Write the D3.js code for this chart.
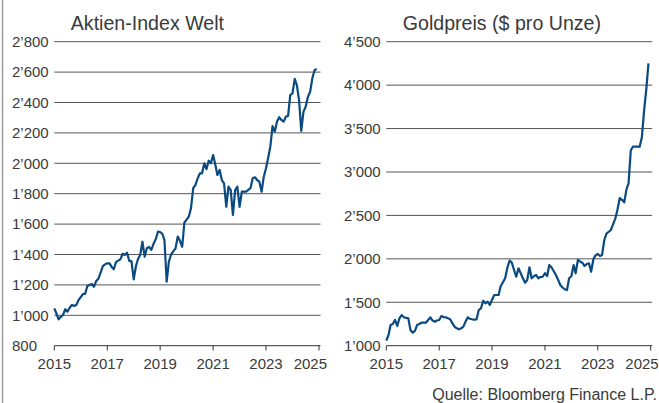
<!DOCTYPE html>
<html>
<head>
<meta charset="utf-8">
<style>
  html, body { margin: 0; padding: 0; background: #fff; }
  svg { display: block; }
  text { font-family: 'Liberation Sans', Arial, sans-serif; fill: #3a3a3a; }
</style>
</head>
<body>
<svg width="659" height="403"></svg>
<script src="https://cdn.jsdelivr.net/npm/d3@7"></script>
<script>
(function (d3) {
  'use strict'

  // monthly closes, Jan 2015 .. Dec 2024
  const stockValues = [
    1046, 1010, 974, 990, 1002, 1040, 1024, 1050, 1068, 1062, 1068, 1100,
    1120, 1140, 1140, 1193, 1200, 1206, 1188, 1225, 1241, 1280, 1324, 1335,
    1342, 1342, 1320, 1303, 1350, 1360, 1368, 1405, 1397, 1412, 1357, 1357,
    1237, 1324, 1370, 1397, 1484, 1386, 1441, 1450, 1430, 1470, 1500, 1550,
    1548, 1535, 1495, 1221, 1353, 1400, 1420, 1441, 1518, 1490, 1451, 1609,
    1630, 1650, 1704, 1836, 1857, 1900, 1934, 1934, 2000, 1961, 2017, 2000,
    2054, 1989, 1923, 1956, 1890, 1868, 1714, 1846, 1824, 1660, 1824, 1846,
    1714, 1813, 1813, 1813, 1825, 1836, 1901, 1908, 1890, 1879, 1813, 1912,
    1967, 2040, 2109, 2245, 2208, 2274, 2303, 2285, 2274, 2307, 2311, 2449,
    2460, 2555, 2515, 2416, 2213, 2340, 2372, 2438, 2471, 2559, 2614, 2620
  ]

  const goldValues = [
    1058, 1123, 1238, 1250, 1296, 1227, 1315, 1353, 1327, 1320, 1315, 1181,
    1150, 1170, 1238, 1250, 1265, 1265, 1265, 1296, 1327, 1290, 1276, 1290,
    1296, 1342, 1330, 1327, 1315, 1304, 1260, 1219, 1200, 1189, 1200, 1219,
    1280, 1327, 1310, 1304, 1300, 1304, 1411, 1431, 1518, 1488, 1507, 1469,
    1530, 1584, 1584, 1584, 1687, 1730, 1776, 1900, 1979, 1956, 1872, 1794,
    1891, 1834, 1780, 1725, 1756, 1903, 1776, 1800, 1814, 1776, 1790, 1794,
    1834, 1802, 1929, 1903, 1860, 1814, 1760, 1699, 1670, 1650, 1641, 1776,
    1800, 1929, 1834, 1987, 1970, 1956, 1918, 1940, 1949, 1852, 1995, 2040,
    2056, 2033, 2044, 2217, 2290, 2312, 2332, 2400, 2467, 2570, 2700, 2680,
    2650, 2800, 2870, 3250, 3291, 3291, 3291, 3291, 3400, 3700, 3950, 4251
  ]

  const yearTicks = [2015, 2017, 2019, 2021, 2023, 2025]
  const stockTicks = [800, 1000, 1200, 1400, 1600, 1800, 2000, 2200, 2400, 2600, 2800]
  const goldTicks = [1000, 1500, 2000, 2500, 3000, 3500, 4000, 4500]

  const months = d3.timeMonth.range(new Date(2015, 0, 1), new Date(2025, 0, 1))

  const svg = d3.select('svg')
  const fmt = v => d3.format(',')(v).replace(',', '\u2019')

  svg.append('line').
    attr('x1', 2.5).attr('x2', 2.5).
    attr('y1', 0).attr('y2', 403).
    attr('stroke', '#9a9a9a').
    attr('stroke-width', 1.5)

  function panel (opts) {
    const x = d3.scaleTime().
      domain([new Date(2015, 0, 1), new Date(2025, 0, 1)]).
      range([opts.left, opts.right])
    const y = d3.scaleLinear().
      domain(opts.domain).
      range([345.7, 41.7])

    const g = svg.append('g')

    g.selectAll('line.grid').data(opts.ticks).
      enter().append('line').
      attr('class', 'grid').
      attr('x1', opts.left).
      attr('x2', opts.right + 1.5).
      attr('y1', d => y(d)).
      attr('y2', d => y(d)).
      attr('stroke', d => d === opts.domain[0] ? '#333' : '#555').
      attr('stroke-width', 1)

    // value labels sit flush left in the gutter
    g.selectAll('text.ylab').data(opts.ticks).
      enter().append('text').
      attr('class', 'ylab').
      attr('x', opts.left - 42.3).
      attr('y', d => y(d)).
      attr('dy', '0.35em').
      attr('font-size', 15).
      text(fmt)

    g.selectAll('line.xtick').data(yearTicks).
      enter().append('line').
      attr('class', 'xtick').
      attr('x1', d => x(new Date(d, 0, 1))).
      attr('x2', d => x(new Date(d, 0, 1))).
      attr('y1', 345.7).
      attr('y2', 350.5).
      attr('stroke', '#333')

    // last year label is pulled in so it stays inside the panel
    const last = yearTicks[yearTicks.length - 1]
    g.selectAll('text.xlab').data(yearTicks).
      enter().append('text').
      attr('class', 'xlab').
      attr('x', d => x(new Date(d, 0, 1)) + (d === last ? 8 : 0)).
      attr('y', 368.5).
      attr('text-anchor', d => d === last ? 'end' : 'middle').
      attr('font-size', 15).
      text(d => d)

    g.append('text').
      attr('x', opts.left + 16.5).
      attr('y', 29.5).
      attr('font-size', 19.6).
      text(opts.title)

    const line = d3.line().
      x((d, i) => x(months[i])).
      y(d => y(d))

    g.append('path').
      datum(opts.values).
      attr('d', line).
      attr('fill', 'none').
      attr('stroke', '#0a4a80').
      attr('stroke-width', 2.2).
      attr('stroke-linejoin', 'round')
  }

  panel({
    left: 54.3, right: 319, domain: [800, 2800],
    ticks: stockTicks, values: stockValues, title: 'Aktien-Index Welt'
  })

  panel({
    left: 386.3, right: 650.7, domain: [1000, 4500],
    ticks: goldTicks, values: goldValues, title: 'Goldpreis ($ pro Unze)'
  })

  svg.append('text').
    attr('x', 657).
    attr('y', 400).
    attr('text-anchor', 'end').
    attr('font-size', 16).
    text('Quelle: Bloomberg Finance L.P.')
}(d3))
</script>
</body>
</html>
